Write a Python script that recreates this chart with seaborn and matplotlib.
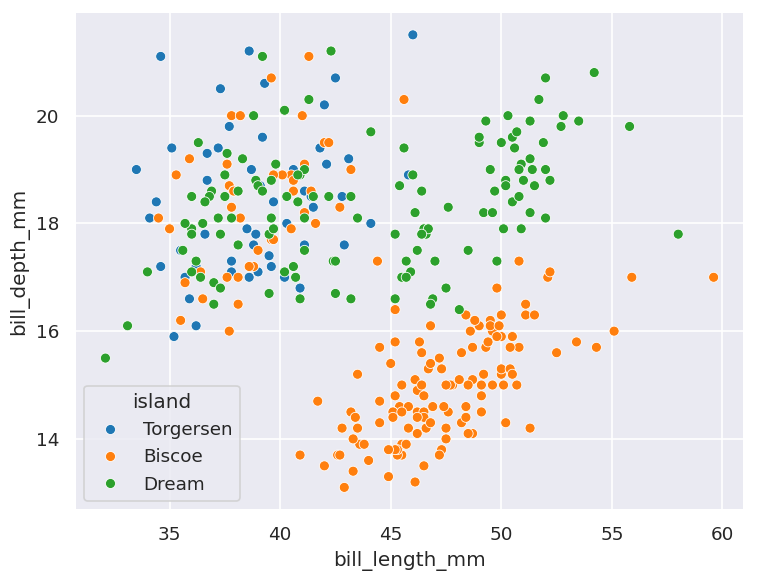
import matplotlib
matplotlib.use("Agg")
import matplotlib.pyplot as plt
import seaborn as sns
import pandas as pd

islands = ["Torgersen", "Biscoe", "Dream"]

torgersen_length = [39.1, 39.5, 40.3, 36.7, 39.3, 38.9, 39.2, 34.1, 42.0, 37.8, 37.8, 41.1, 38.6, 34.6, 36.6, 38.7, 42.5, 34.4, 46.0,
                    35.9, 41.8, 33.5, 39.7, 39.6, 45.8, 35.5, 42.8, 40.9, 37.2, 36.2, 42.1, 34.6, 42.9, 36.7, 35.1,
                    38.6, 37.3, 35.7, 41.1, 36.2, 37.7, 40.2, 41.4, 35.2, 40.6, 38.8, 41.5, 39.0, 44.1, 38.5, 43.1]
torgersen_depth = [18.7, 17.4, 18.0, 19.3, 20.6, 17.8, 19.6, 18.1, 20.2, 17.1, 17.3, 17.6, 21.2, 21.1, 17.8, 19.0, 20.7, 18.4, 21.5,
                   16.6, 19.4, 19.0, 18.4, 17.2, 18.9, 17.5, 18.5, 16.8, 19.4, 16.1, 19.1, 17.2, 17.6, 18.8, 19.4,
                   17.0, 20.5, 17.0, 18.6, 17.2, 19.8, 17.0, 18.5, 15.9, 19.0, 17.6, 18.3, 17.1, 18.0, 17.9, 19.2]

biscoe_length = [37.8, 37.7, 35.9, 38.2, 38.8, 35.3, 40.6, 40.5, 37.9, 40.5,
                 39.6, 40.1, 35.0, 42.0, 34.5, 41.4, 39.0, 40.6, 36.5, 37.6, 35.7, 41.3, 37.6, 41.1, 36.4, 41.6, 35.5, 41.1,
                 35.0, 41.0, 37.7, 37.8, 37.9, 39.7, 38.6, 38.2, 38.1, 43.2, 38.1, 45.6, 39.7, 42.2, 39.6, 42.7,
                 46.1, 50.0, 48.7, 50.0, 47.6, 46.5, 45.4, 46.7, 43.3, 46.8, 40.9, 49.0, 45.5, 48.4, 45.8, 49.3, 42.0, 49.2,
                 46.2, 48.7, 50.2, 45.1, 46.5, 46.3, 42.9, 46.1, 44.5, 47.8, 48.2, 50.0, 47.3, 42.8, 45.1, 59.6, 49.1, 48.4,
                 42.6, 44.4, 44.0, 48.7, 42.7, 49.6, 45.3, 49.6, 50.5, 43.6, 45.5, 50.5, 44.9, 45.2, 46.6, 48.5, 45.1, 50.1,
                 46.5, 45.0, 43.8, 45.5, 43.2, 50.4, 45.3, 46.2, 45.7, 54.3, 45.8, 49.8, 46.2, 49.5, 43.5, 50.7, 47.7, 46.4,
                 48.2, 46.5, 46.4, 48.6, 47.5, 51.1, 45.2, 45.2, 49.1, 52.5, 47.4, 50.0, 44.9, 50.8, 43.4, 51.3, 47.5, 52.1,
                 47.5, 52.2, 45.5, 49.5, 44.5, 50.8, 49.4, 46.9, 48.4, 51.1, 48.5, 55.9, 47.2, 49.1, 47.3, 46.8, 41.7, 53.4,
                 43.3, 48.1, 50.5, 49.8, 43.5, 51.5, 46.2, 55.1, 44.5, 48.8, 47.2, 46.8, 50.4, 45.2, 49.9]
biscoe_depth = [18.3, 18.7, 19.2, 18.1, 17.2, 18.9, 18.6, 17.9, 18.6, 18.9,
                17.7, 18.9, 17.9, 19.5, 18.1, 18.6, 17.5, 18.8, 16.6, 19.1, 16.9, 21.1, 17.0, 18.2, 17.1, 18.0, 16.2, 19.1,
                17.9, 20.0, 16.0, 20.0, 18.6, 18.9, 17.2, 20.0, 17.0, 19.0, 16.5, 20.3, 17.7, 19.5, 20.7, 18.3,
                13.2, 16.3, 14.1, 15.2, 14.5, 13.5, 14.6, 15.3, 13.4, 15.4, 13.7, 16.1, 13.7, 14.6, 14.6, 15.7, 13.5, 15.2,
                14.5, 15.1, 14.3, 14.5, 14.5, 15.8, 13.1, 15.1, 14.3, 15.0, 14.3, 15.3, 15.3, 14.2, 14.5, 17.0, 14.8, 16.3,
                13.7, 17.3, 13.6, 15.7, 13.7, 16.0, 13.7, 15.0, 15.9, 13.9, 13.9, 15.9, 13.3, 15.8, 14.2, 14.1, 14.4, 15.0,
                14.4, 15.4, 13.9, 15.0, 14.5, 15.3, 13.8, 14.9, 13.9, 15.7, 14.2, 16.8, 14.4, 16.2, 14.2, 15.0, 15.0, 15.6,
                15.6, 14.8, 15.0, 16.0, 14.2, 16.3, 13.8, 16.4, 14.5, 15.6, 14.6, 15.9, 13.8, 17.3, 14.4, 14.2, 14.0, 17.0,
                15.0, 17.1, 14.5, 16.1, 14.7, 15.7, 15.8, 14.6, 14.4, 16.5, 15.0, 17.0, 15.5, 15.0, 13.8, 16.1, 14.7, 15.8,
                14.0, 15.1, 15.2, 15.9, 15.2, 16.3, 14.1, 16.0, 15.7, 16.2, 13.7, 14.3, 15.7, 14.8, 16.1]

dream_length = [39.5, 37.2, 39.5, 40.9, 36.4, 39.2, 38.8, 42.2, 37.6, 39.8, 36.5, 40.8, 36.0, 44.1, 37.0, 39.6, 41.1, 37.5, 36.0, 42.3,
                37.3, 41.3, 36.3, 36.9, 38.3, 38.9, 35.7, 41.1, 34.0, 39.6, 36.2, 40.8, 38.1, 40.3, 33.1, 43.2,
                36.8, 37.5, 38.1, 41.1, 35.6, 40.2, 37.0, 39.7, 40.2, 40.6, 32.1, 40.7, 37.3, 39.0, 39.2, 36.6, 36.0, 37.8, 36.0, 41.5,
                46.5, 50.0, 51.3, 45.4, 52.7, 45.2, 46.1, 51.3, 46.0, 51.3, 46.6, 51.7, 47.0, 52.0, 45.9, 50.5, 50.3, 58.0,
                46.4, 49.2, 42.4, 48.5, 43.2, 50.6, 46.7, 52.0, 50.5, 49.5, 46.4, 52.8, 40.9, 54.2, 42.5, 51.0, 49.7, 47.5,
                47.6, 52.0, 46.9, 53.5, 49.0, 46.2, 50.9, 45.5, 50.9, 50.8, 50.1, 49.0, 51.5, 49.8, 48.1, 51.4, 45.7, 50.7,
                42.5, 52.2, 45.2, 49.3, 50.2, 45.6, 51.9, 46.8, 45.7, 55.8, 43.5, 49.6, 50.8, 50.2]
dream_depth = [16.7, 18.1, 17.8, 18.9, 17.0, 21.1, 20.0, 18.5, 19.3, 19.1, 18.0, 18.4, 18.5, 19.7, 16.9, 18.8, 19.0, 18.9, 17.9, 21.2,
               17.8, 20.3, 19.5, 18.6, 19.2, 18.8, 18.0, 18.1, 17.1, 18.1, 17.3, 18.9, 18.6, 18.5, 16.1, 18.5,
               18.5, 18.5, 17.6, 17.5, 17.5, 20.1, 16.5, 17.9, 17.1, 17.2, 15.5, 17.0, 16.8, 18.7, 18.6, 18.4, 17.8, 18.1, 17.1, 18.5,
               17.9, 19.5, 19.2, 18.7, 19.8, 17.8, 18.2, 18.2, 18.9, 19.9, 17.8, 20.3, 17.3, 18.1, 17.1, 19.6, 20.0, 17.8,
               18.6, 18.2, 17.3, 17.5, 16.6, 19.4, 17.9, 19.0, 18.4, 19.0, 17.8, 20.0, 16.6, 20.8, 16.7, 18.8, 18.6, 16.8,
               18.3, 20.7, 16.6, 19.9, 19.5, 17.5, 19.1, 17.0, 17.9, 18.5, 17.9, 19.6, 18.7, 17.3, 16.4, 19.0, 17.3, 19.7,
               17.3, 18.8, 16.6, 19.9, 18.8, 19.4, 19.5, 16.5, 17.0, 19.8, 18.1, 18.2, 19.0, 18.7]

frames = []
for name, xs, ys in [("Torgersen", torgersen_length, torgersen_depth),
                     ("Biscoe", biscoe_length, biscoe_depth),
                     ("Dream", dream_length, dream_depth)]:
    frames.append(pd.DataFrame({"bill_length_mm": xs, "bill_depth_mm": ys, "island": name}))
df = pd.concat(frames, ignore_index=True)

sns.set_theme(style="darkgrid")
fig, ax = plt.subplots(figsize=(760 / 120, 582 / 120), dpi=120)
fig.subplots_adjust(left=0.0987, right=0.979, bottom=0.1237, top=0.979)
sns.scatterplot(data=df, x="bill_length_mm", y="bill_depth_mm", hue="island",
                hue_order=islands, palette="tab10", ax=ax)
ax.set_xticks([35, 40, 45, 50, 55, 60])
ax.set_yticks([14, 16, 18, 20])
ax.legend(title="island", loc="lower left")
fig.savefig("out.png", dpi=120)
